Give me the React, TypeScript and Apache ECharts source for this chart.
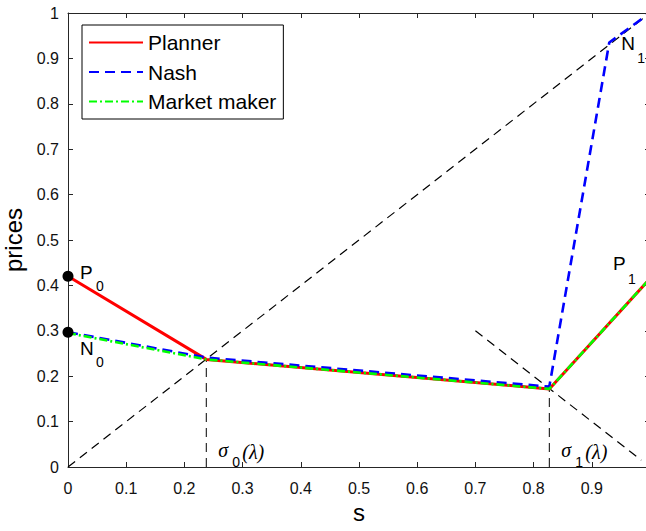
import React, { useEffect, useRef } from 'react';
import * as echarts from 'echarts';

// ---- data ----
const plannerX = [0, 0.2376, 0.827, 1];
const plannerY = [0.42, 0.237, 0.172, 0.415];
const nashX = [0, 0.2376, 0.827, 0.93, 1];
const nashY = [0.297, 0.241, 0.177, 0.935, 1];
const marketX = [0, 0.2376, 0.827, 1];
const marketY = [0.295, 0.237, 0.172, 0.415];
const diagX = [0, 1];
const diagY = [0, 1];
const antiX = [0.7, 0.985];
const antiY = [0.3, 0.015];
const sigmaX = [0.2376, 0.827];
const sigmaTopY = [0.237, 0.174];
const dotX = [0, 0];
const dotY = [0.42, 0.297];
const legendNames = ['Planner', 'Nash', 'Market maker'];

// annotations anchored to data points, with pixel offsets
const pointLabels = [
  { main: 'P', sub: '0', ax: 0, ay: 0.42, dx: 12, dy: -4, sdx: 28, sdy: 10 },
  { main: 'N', sub: '0', ax: 0, ay: 0.297, dx: 12, dy: 16, sdx: 28, sdy: 30 },
  { main: 'P', sub: '1', ax: 1, ay: 0.415, dx: -37, dy: -15, sdx: -22, sdy: 0 },
  { main: 'N', sub: '1', ax: 0.93, ay: 0.935, dx: 12, dy: 1, sdx: 28, sdy: 15 },
];
const sigmaSubs = ['0', '1'];

const pairs = (xs: number[], ys: number[]) => xs.map((x, i) => [x, ys[i]]);

const AXIS = '#262626';
const SANS = '"Liberation Sans", Arial, sans-serif';
const SERIF = '"Liberation Serif", "Times New Roman", serif';

const fmt = (v: number) => (Math.abs(v) < 1e-9 ? '0' : Math.abs(v - 1) < 1e-9 ? '1' : v.toFixed(1));

export default function App() {
  const ref = useRef<HTMLDivElement>(null);
  useEffect(() => {
    if (!ref.current) return;
    const chart = echarts.init(ref.current, undefined, { renderer: 'svg' });
    const blackDash = { color: '#000', width: 1.2, type: [9, 6] as number[] };
    const axisCommon = (pos: string, showLabel: boolean) => ({
      type: 'value' as const,
      min: 0,
      max: 1,
      interval: 0.1,
      position: pos,
      axisLine: { show: true, onZero: false, lineStyle: { color: AXIS, width: 1 } },
      axisTick: { show: true, inside: true, length: 5, lineStyle: { color: AXIS, width: 1 } },
      axisLabel: { show: showLabel, fontSize: 16, color: '#111', fontFamily: SANS, formatter: fmt },
      splitLine: { show: false },
    });
    const option: any = {
      animation: false,
      grid: { left: 68, top: 13, width: 582, height: 454, containLabel: false, outerBoundsMode: 'none' },
      xAxis: [
        {
          ...axisCommon('bottom', true),
          axisLabel: {
            show: true,
            fontSize: 16,
            color: '#111',
            fontFamily: SANS,
            formatter: fmt,
            margin: 13,
            showMaxLabel: false,
          },
          name: 's',
          nameLocation: 'middle',
          nameGap: 33,
          nameTextStyle: { fontSize: 24, color: '#000', fontFamily: SANS },
        },
        axisCommon('top', false),
      ],
      yAxis: [
        {
          ...axisCommon('left', true),
          axisLabel: { show: true, fontSize: 16, color: '#111', fontFamily: SANS, formatter: fmt, margin: 9 },
          name: 'prices',
          nameLocation: 'middle',
          nameGap: 36,
          nameTextStyle: { fontSize: 24, color: '#000', fontFamily: SANS },
        },
        axisCommon('right', false),
      ],
      legend: {
        data: legendNames,
        orient: 'vertical',
        left: 82,
        top: 25,
        padding: [7, 7, 7, 6],
        itemGap: 8.5,
        itemWidth: 54,
        itemHeight: 14,
        borderColor: '#000',
        borderWidth: 1,
        borderRadius: 0,
        backgroundColor: '#fff',
        itemStyle: { opacity: 0 },
        textStyle: { fontSize: 21, fontFamily: SANS, color: '#000', lineHeight: 20 },
      },
      series: [
        { type: 'line', name: 'diag', data: pairs(diagX, diagY), symbol: 'none', lineStyle: blackDash, silent: true },
        { type: 'line', name: 'anti', data: pairs(antiX, antiY), symbol: 'none', lineStyle: blackDash, silent: true },
        ...sigmaX.map((sx, i) => ({
          type: 'line',
          name: 'sigma' + i,
          data: [[sx, 0], [sx, sigmaTopY[i]]],
          symbol: 'none',
          lineStyle: { color: '#000', width: 1, type: [9, 6] },
          silent: true,
        })),
        {
          type: 'line',
          name: 'Planner',
          data: pairs(plannerX, plannerY),
          symbol: 'none',
          color: '#ff0000',
          lineStyle: { color: '#ff0000', width: 3 },
        },
        {
          type: 'line',
          name: 'Nash',
          data: pairs(nashX, nashY),
          symbol: 'none',
          color: '#0000ff',
          lineStyle: { color: '#0000ff', width: 2.6, type: [10, 6] },
        },
        {
          type: 'line',
          name: 'Market maker',
          data: pairs(marketX, marketY),
          symbol: 'none',
          color: '#00ff00',
          lineStyle: { color: '#00ff00', width: 2.6, type: [8, 3, 2, 3] },
        },
        {
          type: 'scatter',
          name: 'dots',
          data: pairs(dotX, dotY),
          symbol: 'circle',
          symbolSize: 11,
          itemStyle: { color: '#000', opacity: 1 },
          clip: false,
          silent: true,
          z: 5,
        },
      ],
    };
    chart.setOption(option);

    const graphic: any[] = [];
    pointLabels.forEach((p) => {
      const [px, py] = chart.convertToPixel({ gridIndex: 0 }, [p.ax, p.ay]) as number[];
      graphic.push({
        type: 'text',
        x: px + p.dx,
        y: py + p.dy,
        style: { text: p.main, fontSize: 19, fontFamily: SANS, fill: '#000', align: 'left', verticalAlign: 'middle' },
      });
      graphic.push({
        type: 'text',
        x: px + p.sdx,
        y: py + p.sdy,
        style: { text: p.sub, fontSize: 14, fontFamily: SANS, fill: '#000', align: 'left', verticalAlign: 'middle' },
      });
    });
    sigmaX.forEach((sx, i) => {
      const [px, py] = chart.convertToPixel({ gridIndex: 0 }, [sx, 0]) as number[];
      graphic.push({
        type: 'text',
        x: px + 12,
        y: py - 17,
        style: { text: 'σ', fontSize: 20, fontFamily: SERIF, fontStyle: 'italic', fill: '#000', align: 'left', verticalAlign: 'middle' },
      });
      graphic.push({
        type: 'text',
        x: px + 26,
        y: py - 5,
        style: { text: sigmaSubs[i], fontSize: 14, fontFamily: SANS, fill: '#000', align: 'left', verticalAlign: 'middle' },
      });
      graphic.push({
        type: 'text',
        x: px + 36,
        y: py - 15,
        style: { text: '(λ)', fontSize: 20, fontFamily: SERIF, fontStyle: 'italic', fill: '#000', align: 'left', verticalAlign: 'middle' },
      });
    });
    chart.setOption({ graphic });

    return () => chart.dispose();
  }, []);
  return (
    <div
      ref={ref}
      style={{ position: 'absolute', left: 0, top: 0, width: 646, height: 531, background: '#fff' }}
    />
  );
}
